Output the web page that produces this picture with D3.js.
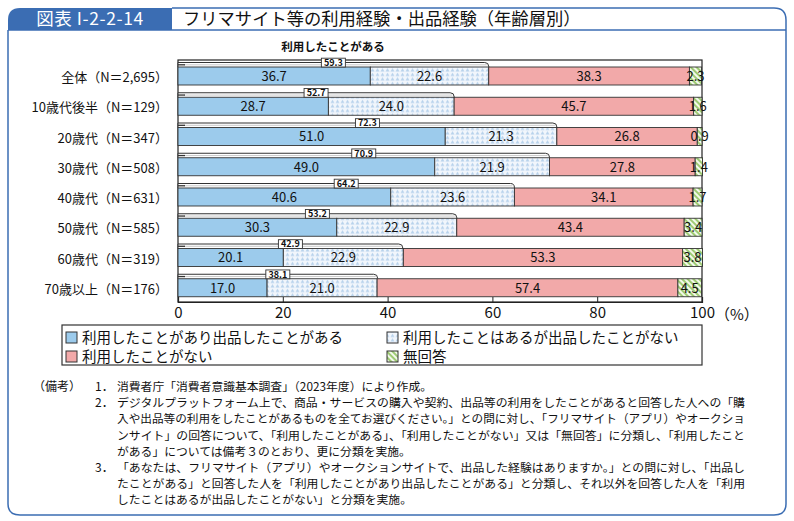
<!DOCTYPE html>
<html><head><meta charset="utf-8">
<script src="https://cdn.jsdelivr.net/npm/d3@7"></script>
<style>
body{margin:0;background:#fff;}
svg{display:block;font-family:"Noto Sans CJK JP","Noto Sans",sans-serif;}
</style></head>
<body><svg id="c" width="794" height="521"></svg>
<script>
const categories = ["全体（N＝2,695）","10歳代後半（N＝129）","20歳代（N＝347）","30歳代（N＝508）","40歳代（N＝631）","50歳代（N＝585）","60歳代（N＝319）","70歳以上（N＝176）"];
const usedListed   = [36.7, 28.7, 51.0, 49.0, 40.6, 30.3, 20.1, 17.0];
const usedNotListed= [22.6, 24.0, 21.3, 21.9, 23.6, 22.9, 22.9, 21.0];
const neverUsed    = [38.3, 45.7, 26.8, 27.8, 34.1, 43.4, 53.3, 57.4];
const noAnswer     = [2.3, 1.6, 0.9, 1.4, 1.7, 3.4, 3.8, 4.5];
const usedTotal    = [59.3, 52.7, 72.3, 70.9, 64.2, 53.2, 42.9, 38.1];
const seriesNames  = ["利用したことがあり出品したことがある","利用したことはあるが出品したことがない","利用したことがない","無回答"];
const xTicks = [0,20,40,60,80,100];
const notes = [
 ["（備考）","1．","消費者庁「消費者意識基本調査」（2023年度）により作成。",false],
 ["","2．","デジタルプラットフォーム上で、商品・サービスの購入や契約、出品等の利用をしたことがあると回答した人への「購",true],
 ["","","入や出品等の利用をしたことがあるものを全てお選びください。」との問に対し、「フリマサイト（アプリ）やオークショ",true],
 ["","","ンサイト」の回答について、「利用したことがある」、「利用したことがない」又は「無回答」に分類し、「利用したこと",true],
 ["","","がある」については備考３のとおり、更に分類を実施。",false],
 ["","3．","「あなたは、フリマサイト（アプリ）やオークションサイトで、出品した経験はありますか。」との問に対し、「出品し",true],
 ["","","たことがある」と回答した人を「利用したことがあり出品したことがある」と分類し、それ以外を回答した人を「利用",true],
 ["","","したことはあるが出品したことがない」と分類を実施。",false]
];

const svg = d3.select("#c");
const blue = "#3b6db3";
const defs = svg.append("defs");
const tri = defs.append("pattern").attr("id","tri").attr("patternUnits","userSpaceOnUse").attr("width",5).attr("height",4.5);
tri.append("rect").attr("width",5).attr("height",4.5).attr("fill","#f1f6fc");
tri.append("path").attr("d","M0.5,4 L2.5,0.6 L4.5,4 Z").attr("fill","#b9d3ec");
const hat = defs.append("pattern").attr("id","hat").attr("patternUnits","userSpaceOnUse").attr("width",4).attr("height",4).attr("patternTransform","rotate(-45)");
hat.append("rect").attr("width",4).attr("height",4).attr("fill","#f3f9ec");
hat.append("rect").attr("width",2).attr("height",4).attr("fill","#9fcb74");
const fills = ["#9ccbec","url(#tri)","#f2a9a9","url(#hat)"];

// frame
svg.append("path").attr("d","M8,30 L8,504 Q8,515 20,515 L774,515 Q786,515 786,504 L786,20 Q786,8 774,8 L172,8")
  .attr("fill","none").attr("stroke",blue).attr("stroke-width",1.5);
svg.append("path").attr("d","M8,30 L8,20 Q8,8 20,8 L172,8 L172,30 Z").attr("fill",blue);
svg.append("line").attr("x1",8).attr("x2",786).attr("y1",30).attr("y2",30).attr("stroke",blue).attr("stroke-width",1.5);
svg.append("text").attr("x",90).attr("y",25).attr("text-anchor","middle").attr("fill","#fff").attr("font-size",17.5).attr("letter-spacing",0.6).text("図表 I-2-2-14");
svg.append("text").attr("x",183).attr("y",25).attr("fill","#111").attr("font-size",17.3).text("フリマサイト等の利用経験・出品経験（年齢層別）");

// scales
const x = d3.scaleLinear().domain([0,100]).range([178,702]);
const y = d3.scaleBand().domain(categories).range([60,302]).padding(0);
const bw = y.bandwidth();

svg.append("text").attr("x",333).attr("y",51).attr("text-anchor","middle").attr("font-size",11.5).attr("font-weight","bold").attr("fill","#111").text("利用したことがある");

// plot frame
svg.append("rect").attr("x",x(0)).attr("y",60).attr("width",x(100)-x(0)).attr("height",242).attr("fill","none").attr("stroke","#222").attr("stroke-width",1.2);

const seriesArr = [usedListed, usedNotListed, neverUsed, noAnswer];
categories.forEach((c,i)=>{
  const b = y(c);
  const top = b+2.5, barTop = b+7, barH = 18;
  const x0 = x(0), xe = x(usedTotal[i]);
  svg.append("path").attr("d",`M${x0},${barTop} L${x0},${top} L${xe-4},${top} Q${xe},${top} ${xe},${top+4} L${xe},${barTop}`)
     .attr("fill","#fff").attr("stroke","#333").attr("stroke-width",1);
  svg.append("line").attr("x1",x0+6).attr("x2",xe-2).attr("y1",top+2.3).attr("y2",top+2.3).attr("stroke","#bbb").attr("stroke-width",0.8);
  svg.append("line").attr("x1",x0).attr("x2",x0+7).attr("y1",top+2.3).attr("y2",top+2.3).attr("stroke","#333").attr("stroke-width",1.3);
  let acc = 0;
  seriesArr.forEach((s,k)=>{
    const v = s[i];
    svg.append("rect").attr("x",x(acc)).attr("y",barTop).attr("width",x(acc+v)-x(acc)).attr("height",barH)
       .attr("fill",fills[k]).attr("stroke","#333").attr("stroke-width",0.9);
    const cx = (x(acc)+x(acc+v))/2;
    svg.append("text").attr("x",cx).attr("y",barTop+barH/2+4.8).attr("text-anchor","middle")
       .attr("font-size",13).attr("fill","#111").text(v.toFixed(1));
    acc += v;
  });
  const cxm = (x0+xe)/2;
  svg.append("rect").attr("x",cxm-12).attr("y",top-4.3).attr("width",24).attr("height",8.8).attr("fill","#fff").attr("stroke","#333").attr("stroke-width",0.9);
  svg.append("text").attr("x",cxm).attr("y",top+3.3).attr("text-anchor","middle").attr("font-size",9).attr("font-weight","bold").attr("fill","#111").text(usedTotal[i].toFixed(1));
  svg.append("text").attr("x",168).attr("y",b+bw/2+7).attr("text-anchor","end").attr("font-size",13).attr("fill","#111").text(c);
});

// axis
const ax = svg.append("g").attr("transform","translate(0,302)").call(d3.axisBottom(x).tickValues(xTicks).tickSize(-5).tickFormat(d=>d));
ax.select(".domain").attr("stroke","#222").attr("stroke-width",1.2);
ax.selectAll(".tick line").attr("stroke","#222");
ax.selectAll(".tick text").attr("font-size",15).attr("fill","#111").attr("font-family","Noto Sans CJK JP").attr("dy","0.9em").attr("y",2);
svg.append("text").attr("x",715).attr("y",320).attr("font-size",15).attr("fill","#111").text("（%）");

// legend
svg.append("rect").attr("x",62).attr("y",325).attr("width",640).attr("height",40).attr("fill","#fff").attr("stroke","#333").attr("stroke-width",1.2);
const legPos = [[66,332],[387,332],[66,351],[387,351]];
seriesNames.forEach((n,k)=>{
  const [lx,ly] = legPos[k];
  svg.append("rect").attr("x",lx).attr("y",ly).attr("width",11).attr("height",11).attr("fill",fills[k]).attr("stroke","#333").attr("stroke-width",1);
  svg.append("text").attr("x",lx+16).attr("y",ly+11).attr("font-size",14.5).attr("fill","#111").text(n);
});

// notes
notes.forEach((nn,i)=>{
  const ly = 391 + i*16.2;
  if(nn[0]) svg.append("text").attr("x",33).attr("y",ly).attr("font-size",12).attr("fill","#111").text(nn[0]);
  if(nn[1]) svg.append("text").attr("x",95).attr("y",ly).attr("font-size",12).attr("fill","#111").text(nn[1]);
  const t = svg.append("text").attr("x",117).attr("y",ly).attr("font-size",11.8).attr("fill","#111").text(nn[2]);
  if(nn[3]) t.attr("textLength",745-117).attr("lengthAdjust","spacingAndGlyphs");
});
</script></body></html>
